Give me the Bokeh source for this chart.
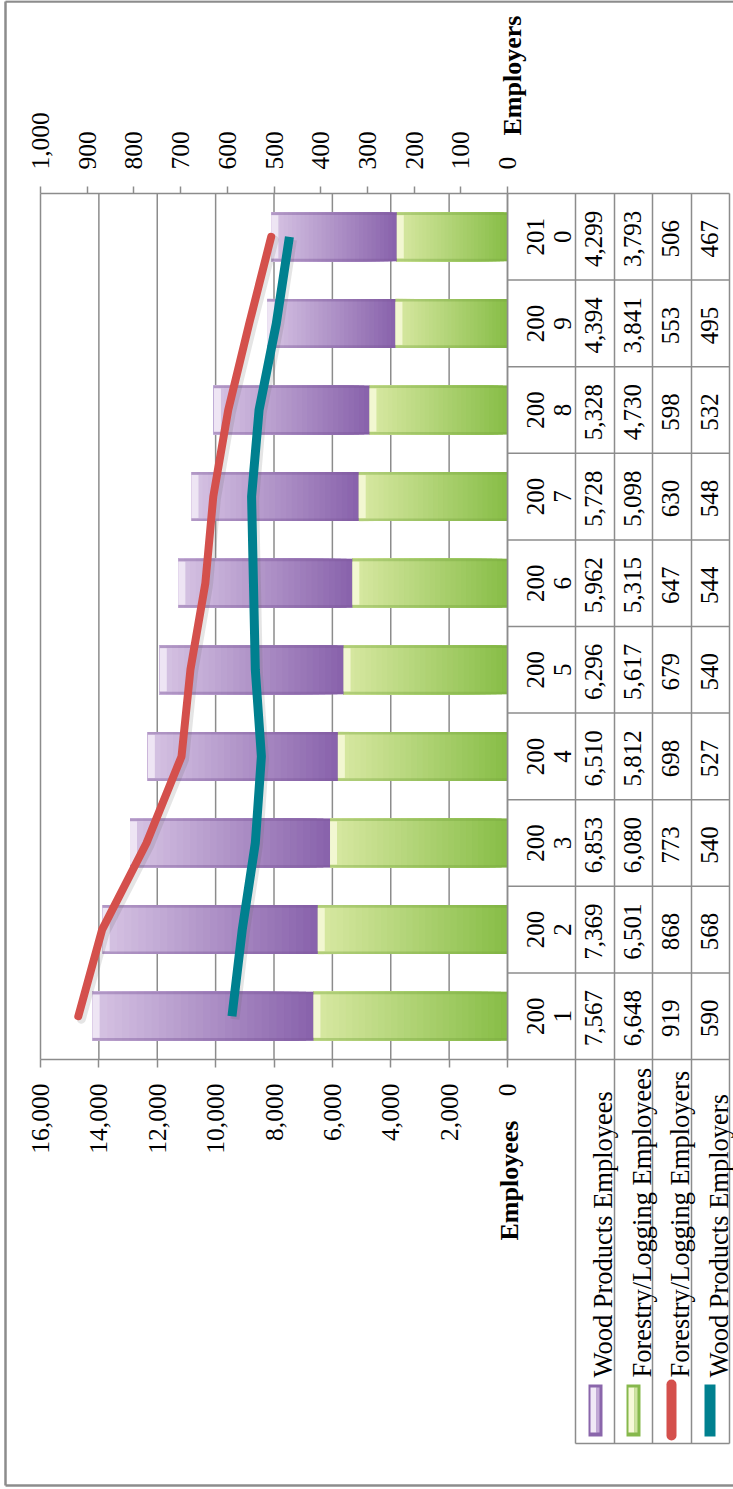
import math
from bokeh.plotting import figure
from bokeh.models import (Range1d, LinearAxis, FixedTicker, NumeralTickFormatter, ColumnDataSource)
from bokeh.embed import file_html
from bokeh.resources import INLINE
from bokeh.core.properties import value

# ---------------- data ----------------
years = ["2001", "2002", "2003", "2004", "2005", "2006", "2007", "2008", "2009", "2010"]
wood_products_employees = [7567, 7369, 6853, 6510, 6296, 5962, 5728, 5328, 4394, 4299]
forestry_logging_employees = [6648, 6501, 6080, 5812, 5617, 5315, 5098, 4730, 3841, 3793]
forestry_logging_employers = [919, 868, 773, 698, 679, 647, 630, 598, 553, 506]
wood_products_employers = [590, 568, 540, 527, 540, 544, 548, 532, 495, 467]
series_names = ["Wood Products Employees", "Forestry/Logging Employees",
                "Forestry/Logging Employers", "Wood Products Employers"]
employees_ticks = list(range(0, 16001, 2000))
employers_ticks = list(range(0, 1001, 100))

# ---------------- style / layout ----------------
FONT = "Liberation Serif"
FS = "25px"
FS_TICK = "25.5px"
FS_LEG = "26.5px"
GRAY = "#8c8c8c"
PURPLE_DARK = (137, 99, 172)
PURPLE_LIGHT = (214, 195, 227)
GREEN_DARK = (136, 190, 72)
GREEN_LIGHT = (216, 232, 162)
RED = "#d4504c"
TEAL = "#00808f"

W, H = 733, 1489
FL, FT, FB = 40, 193, 1059       # plot area (page pixels)
X0 = 507                          # zero of both value axes
TR = 729                          # table right edge
LB = 1443                         # legend bottom
col_px = [575, 614, 652, 691, TR]
EMP_MAX, ER_MAX = 16000, 1000
kx_emp = (X0 - FL) / EMP_MAX
kx_er = (X0 - FL) / ER_MAX
n = len(years)
row_h = (FB - FT) / n


def ex(px):   # page x -> employees data
    return (X0 - px) / kx_emp


def erx(px):  # page x -> employers data
    return (X0 - px) / kx_er


def ey(py):   # page y -> category position
    return n + 0.5 - (py - FT) / row_h


def dy(dpx):
    return -dpx / row_h


def lerp(c0, c1, t):
    return "#%02x%02x%02x" % tuple(int(round(a + (b - a) * t)) for a, b in zip(c0, c1))


p = figure(width=W, height=H,
           x_range=Range1d(ex(0), ex(W)), y_range=Range1d(ey(H), ey(0)),
           output_backend="svg", toolbar_location=None,
           x_axis_location=None, y_axis_location=None,
           min_border=0, background_fill_color="white", border_fill_color="white",
           outline_line_color=None)
p.extra_x_ranges = {"er": Range1d(erx(0), erx(W))}
for g in p.grid:
    g.visible = False


def style_axis(ax, standoff, tick_out):
    ax.major_label_orientation = math.pi / 2
    ax.major_label_text_font = FONT
    ax.major_label_text_font_size = FS_TICK
    ax.major_label_text_color = "black"
    ax.major_label_standoff = standoff
    ax.axis_line_color = GRAY
    ax.axis_line_width = 1.5
    ax.major_tick_line_color = GRAY
    ax.major_tick_line_width = 1.5
    ax.major_tick_out = tick_out
    ax.major_tick_in = 0
    ax.minor_tick_line_color = None
    ax.formatter = NumeralTickFormatter(format="0,0")


xa = LinearAxis(ticker=FixedTicker(ticks=employees_ticks), bounds=(0, EMP_MAX), fixed_location=ey(FB))
style_axis(xa, 16, 8)
p.add_layout(xa, "below")
ta = LinearAxis(x_range_name="er", ticker=FixedTicker(ticks=employers_ticks), bounds=(0, ER_MAX),
                fixed_location=ey(FT))
style_axis(ta, 17, 7)
p.add_layout(ta, "above")

# outer border
p.segment(x0=[ex(5), ex(5), ex(5)], x1=[ex(5), ex(W), ex(W)],
          y0=[ey(1), ey(1), ey(1485)], y1=[ey(1485), ey(1), ey(1485)],
          line_color=GRAY, line_width=2.5)

# gridlines (employees scale)
p.segment(x0=employees_ticks, x1=employees_ticks, y0=[ey(FT)] * len(employees_ticks),
          y1=[ey(FB)] * len(employees_ticks), line_color=GRAY, line_width=1.5)

idx = list(range(1, n + 1))

# ---------------- stacked bars with gradient ----------------
NS = 30
bh = 49 / row_h
ys, ls, rs, cs = [], [], [], []
for i in range(n):
    g = forestry_logging_employees[i]
    w = wood_products_employees[i]
    for k in range(NS):
        t = k / (NS - 1)
        ys.append(idx[i]); ls.append(g * k / NS); rs.append(g)
        cs.append(lerp(GREEN_DARK, GREEN_LIGHT, t))
    for k in range(NS):
        t = k / (NS - 1)
        ys.append(idx[i]); ls.append(g + w * k / NS); rs.append(g + w)
        cs.append(lerp(PURPLE_DARK, PURPLE_LIGHT, t))
p.hbar(y="y", left="l", right="r", height=bh, fill_color="c", line_color=None,
       source=ColumnDataSource(dict(y=ys, l=ls, r=rs, c=cs)))

# bevel edges
edge_y, edge_l, edge_r, edge_c = [], [], [], []
for i in range(n):
    g = forestry_logging_employees[i]
    w = wood_products_employees[i]
    for s in (-1, 1):
        yy = idx[i] + s * (bh / 2 - 1.3 / row_h)
        edge_y += [yy, yy]
        edge_l += [0, g]
        edge_r += [g, g + w]
        edge_c += ["#79a83f", "#7a5698"]
p.hbar(y=edge_y, left=edge_l, right=edge_r, height=2.6 / row_h, fill_color=edge_c,
       fill_alpha=0.4, line_color=None)
hl = 7 / kx_emp
p.hbar(y=idx, left=[g - hl for g in forestry_logging_employees], right=forestry_logging_employees,
       height=bh - 6 / row_h, fill_color="#f7f9d9", fill_alpha=0.85, line_color=None)
tops = [g + w for g, w in zip(forestry_logging_employees, wood_products_employees)]
p.hbar(y=idx, left=[t - hl for t in tops], right=tops,
       height=bh - 6 / row_h, fill_color="#f4eef8", fill_alpha=0.8, line_color=None)

# ---------------- lines (employers axis) ----------------
sdx = 3 / kx_er
p.line(x=[v - sdx for v in forestry_logging_employers], y=[v + dy(3) for v in idx], x_range_name="er",
       line_color="#606060", line_alpha=0.16, line_width=9, line_cap="round", line_join="round")
p.line(x=[v - sdx for v in wood_products_employers], y=[v + dy(3) for v in idx], x_range_name="er",
       line_color="#606060", line_alpha=0.16, line_width=9, line_join="round")
p.line(x=forestry_logging_employers, y=idx, x_range_name="er", line_color=RED, line_width=8,
       line_cap="round", line_join="round")
p.line(x=wood_products_employers, y=idx, x_range_name="er", line_color=TEAL, line_width=9,
       line_join="round")

# ---------------- data table ----------------
vx = [X0] + col_px
p.segment(x0=[ex(v) for v in vx], x1=[ex(v) for v in vx],
          y0=[ey(FT)] * len(vx), y1=[ey(FB)] + [ey(LB)] * len(col_px),
          line_color=GRAY, line_width=1.5)
hy = [ey(FT + k * row_h) for k in range(n + 1)]
p.segment(x0=[ex(X0)] * len(hy) + [ex(col_px[0])], x1=[ex(TR)] * (len(hy) + 1),
          y0=hy + [ey(LB)], y1=hy + [ey(LB)], line_color=GRAY, line_width=1.5)

txt = dict(angle=math.pi / 2, text_align="center", text_baseline="alphabetic",
           text_font=value(FONT), text_font_size=value(FS), text_color="black")
p.text(x=[ex(X0 + 28)] * n, y=idx, text=[y[:3] for y in years], **txt)
p.text(x=[ex(X0 + 55)] * n, y=idx, text=[y[3:] for y in years], **txt)
table_cols = [wood_products_employees, forestry_logging_employees,
              forestry_logging_employers, wood_products_employers]
for c, vals in enumerate(table_cols):
    p.text(x=[ex(col_px[c] + 18)] * n, y=[i + dy(2) for i in idx],
           text=["{:,}".format(v) for v in vals], **txt)

# ---------------- legend (row headers of the table) ----------------
ltxt = dict(txt, text_align="left", text_font_size=value(FS_LEG))
p.text(x=[ex(c + 27) for c in col_px[:4]], y=[ey(1377)] * 4, text=series_names, **ltxt)

kx = [col_px[0] + 13, col_px[1] + 12, col_px[2] + 14, col_px[3] + 13]
p.quad(left=[ex(kx[0]), ex(kx[1]), ex(kx[3])], right=[ex(kx[0] + 14), ex(kx[1] + 14), ex(kx[3] + 11)],
       top=[ey(1384)] * 3, bottom=[ey(1436)] * 3,
       fill_color=["#8a66ab", "#86b84c", TEAL], line_color=None)
p.quad(left=[ex(kx[0] + 2), ex(kx[1] + 2)], right=[ex(kx[0] + 8), ex(kx[1] + 8)],
       top=[ey(1387)] * 2, bottom=[ey(1432)] * 2,
       fill_color=["#f1e9f6", "#f7f9d8"], line_color=None)
p.quad(left=[ex(kx[0] + 8), ex(kx[1] + 8)], right=[ex(kx[0] + 11), ex(kx[1] + 11)],
       top=[ey(1387)] * 2, bottom=[ey(1432)] * 2,
       fill_color=["#c3a9d6", "#cfe3a0"], line_color=None)
p.segment(x0=[ex(kx[2] + 5)], x1=[ex(kx[2] + 5)], y0=[ey(1384)], y1=[ey(1435)],
          line_color=RED, line_width=10, line_cap="round")

# ---------------- axis titles ----------------
btxt = dict(angle=math.pi / 2, text_align="left", text_baseline="alphabetic",
            text_font=value(FONT), text_font_size=value("26px"), text_font_style="bold",
            text_color="black")
p.text(x=[ex(512)], y=[ey(135)], text=["Employers"], **btxt)
p.text(x=[ex(509)], y=[ey(1240)], text=["Employees"], **btxt)

open("out.html", "w").write(file_html(p, INLINE))
